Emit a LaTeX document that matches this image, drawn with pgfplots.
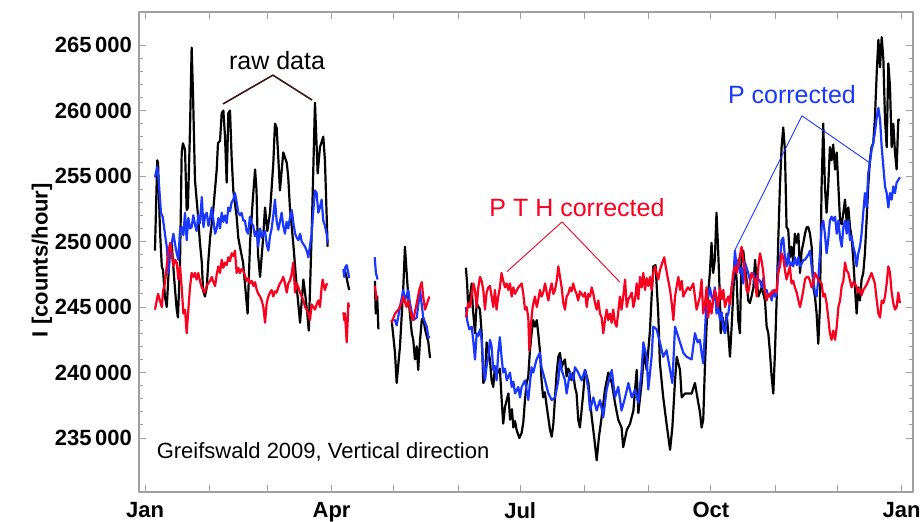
\documentclass[border=0pt]{standalone}
\usepackage{pgfplots}
\pgfplotsset{compat=1.18}
\usepackage{pgfplotstable}
\usepackage{fontspec}
\setmainfont{Liberation Sans}
\definecolor{myblue}{RGB}{25,55,255}
\definecolor{myred}{RGB}{250,0,30}
\definecolor{annline}{RGB}{60,20,20}
\definecolor{framegray}{RGB}{160,160,160}

\pgfplotstableread{
d v
4.8 249.3
5.9 256.2
6.3 256.0
7.2 250.9
8.1 248.1
8.7 247.8
9.6 245.8
10.5 245.0
11.1 246.8
12.1 249.6
12.9 249.9
13.5 248.4
14.5 246.3
15.3 244.8
15.9 244.2
16.9 248.4
17.7 256.8
18.3 257.5
19.3 257.0
20.1 252.4
20.7 252.6
21.7 258.5
22.5 264.8
23.2 261.0
24.1 254.7
25.6 251.9
26.5 249.9
27.4 248.4
28.0 246.3
28.9 245.8
29.8 246.5
30.5 248.4
31.4 250.3
32.8 252.2
34.6 255.5
35.2 257.5
36.2 257.7
37.0 259.8
37.8 260.0
38.6 258.0
39.4 254.5
40.2 259.8
41.0 260.0
41.8 256.4
42.6 253.9
44.2 251.9
45.0 250.3
45.8 249.6
47.3 248.4
48.2 246.8
49.5 244.5
50.7 250.0
52.0 253.2
53.1 255.5
53.8 253.9
54.5 249.1
55.5 247.3
56.9 250.1
57.9 252.6
59.0 250.8
60.3 252.2
61.9 256.0
62.7 259.0
63.5 258.7
64.3 256.4
65.1 253.9
66.7 256.8
68.4 256.0
69.1 254.9
69.9 252.6
71.5 249.9
73.2 246.5
74.8 243.8
76.4 247.1
77.2 246.1
78.3 244.5
79.0 243.2
80.4 250.6
82.0 260.6
83.3 255.2
84.4 257.2
86.0 258.0
86.8 256.2
88.1 249.6
nan nan
96.3 247.9
97.2 247.3
97.8 246.8
98.5 246.3
nan nan
110.9 247.0
111.3 244.5
112.0 245.8
112.6 243.3
nan nan
119.0 244.0
120.6 241.5
121.4 239.2
123.0 242.0
124.6 246.5
125.4 249.6
127.0 245.8
128.7 243.0
129.4 242.5
130.2 241.0
131.1 242.0
131.8 240.2
132.7 242.5
133.5 244.0
134.2 244.2
135.1 243.3
136.7 242.3
137.5 241.1
nan nan
154.8 248.0
155.4 246.8
155.9 245.0
156.8 245.8
157.6 246.8
158.1 245.0
159.2 243.0
160.0 245.3
161.6 244.8
162.4 243.0
163.2 239.2
164.0 239.5
164.8 242.3
166.4 241.0
167.2 239.4
168.0 238.9
168.8 240.4
170.4 240.0
171.2 240.3
172.0 238.1
172.8 236.1
173.7 237.4
175.3 238.4
176.1 236.4
177.0 237.2
177.7 235.8
178.5 236.3
179.3 235.6
180.6 235.0
181.7 235.4
182.5 236.2
183.3 237.9
184.1 239.2
184.9 239.7
185.7 241.7
186.5 243.0
187.3 244.0
188.1 243.5
189.0 244.0
189.7 243.0
190.5 241.7
191.3 239.4
192.1 238.1
192.9 238.5
193.8 237.4
195.4 235.6
196.2 235.1
197.0 236.1
197.8 238.1
198.6 240.0
199.4 241.2
200.2 241.5
201.0 240.4
201.8 240.8
202.6 241.0
203.4 239.7
204.2 240.3
205.0 240.0
205.8 239.4
206.6 240.0
207.4 238.9
208.2 238.4
209.0 236.4
209.8 235.8
211.4 238.4
212.3 240.2
213.9 239.2
215.5 236.6
216.8 234.9
217.9 233.3
219.0 235.1
220.3 236.6
221.9 238.7
223.5 240.0
225.2 239.2
226.7 237.7
228.3 236.4
229.9 235.8
230.7 234.3
232.4 235.6
234.0 236.1
235.6 237.1
237.2 240.2
238.0 236.9
239.6 239.2
240.9 241.7
242.0 240.2
243.6 243.2
244.4 245.8
245.2 248.1
246.3 248.2
247.6 244.5
248.4 240.7
250.0 238.1
251.6 236.1
253.3 234.1
254.4 235.8
255.7 239.4
256.5 241.2
258.1 240.2
258.9 238.1
260.5 238.4
262.1 238.4
263.7 238.4
265.3 239.2
266.9 237.7
267.7 237.0
268.5 235.8
269.3 236.4
270.1 240.4
270.9 243.5
271.7 246.1
272.5 247.6
273.3 249.9
274.1 247.6
274.9 248.6
275.7 252.2
276.5 249.3
277.4 245.5
277.7 243.0
278.7 244.2
279.8 243.0
280.6 244.5
281.4 243.0
282.2 241.2
283.0 243.5
283.8 246.1
284.6 248.6
285.4 247.1
286.2 244.0
287.0 243.0
287.8 249.1
288.6 249.3
289.4 248.1
290.2 247.1
291.0 245.5
291.8 245.3
292.6 245.8
293.5 246.5
294.3 248.6
295.1 247.1
295.9 245.8
297.5 246.5
299.1 245.5
299.9 243.5
300.7 243.0
301.5 241.5
302.3 239.7
303.1 238.4
303.9 241.5
304.7 245.5
305.5 250.1
306.3 254.2
307.1 257.2
307.9 258.7
308.7 257.0
309.5 251.1
310.3 250.9
311.1 248.8
311.9 249.6
312.7 248.4
313.5 250.6
314.4 249.9
315.2 250.6
316.0 247.6
316.8 249.3
317.6 249.9
318.4 250.6
319.2 251.1
320.0 251.1
320.8 250.6
321.6 249.6
322.4 246.5
323.2 245.8
324.0 244.5
324.8 242.2
325.6 245.0
326.4 254.2
327.2 259.0
328.0 254.2
328.8 252.2
329.6 254.2
330.4 257.2
331.2 256.2
332.0 257.4
332.9 255.5
333.7 256.8
334.5 254.2
335.3 251.6
336.1 251.3
336.9 252.2
337.7 253.2
338.5 251.5
339.3 252.6
340.1 251.1
340.9 250.3
341.7 248.6
342.5 246.5
343.3 244.5
344.1 246.5
344.9 245.5
345.7 247.1
346.5 247.6
347.3 249.1
348.1 251.6
348.9 254.2
349.7 256.2
350.5 257.2
351.3 257.5
352.1 259.3
353.0 262.9
353.8 265.4
354.6 263.3
355.4 265.6
356.2 263.9
357.0 259.3
357.8 257.2
358.6 263.6
359.4 261.8
360.2 257.2
361.0 259.0
361.8 256.8
362.6 255.5
363.4 259.3
364.2 259.3
}\rawdata

\pgfplotstableread{
d v
4.8 254.9
5.9 255.7
6.8 254.2
7.7 252.2
8.5 251.9
9.6 250.6
10.5 249.6
11.3 247.6
11.8 248.8
12.9 249.9
13.7 250.6
14.5 249.8
15.3 249.1
16.1 248.6
16.9 250.9
17.7 251.1
18.5 250.5
19.3 252.2
20.1 250.1
20.9 251.8
21.7 251.0
22.5 251.1
23.3 252.0
24.1 251.3
24.9 250.8
25.7 252.0
26.5 251.4
27.4 253.4
28.2 251.1
29.0 252.0
29.8 252.2
30.6 251.2
31.4 251.8
32.2 252.6
33.0 251.6
33.8 250.6
34.6 251.0
35.4 251.8
36.2 251.0
37.0 252.2
37.8 251.5
38.6 252.0
39.4 251.4
40.2 252.6
41.0 252.3
41.8 253.0
42.6 253.2
43.4 253.7
44.2 253.0
45.0 252.2
45.8 252.0
46.6 252.2
47.4 251.6
48.2 251.6
49.0 250.8
49.8 250.6
50.6 251.9
51.4 251.4
52.2 251.2
53.0 250.4
53.8 250.8
54.6 249.6
55.5 251.0
56.3 250.3
57.1 250.6
57.9 250.8
58.7 249.8
59.5 249.3
60.3 250.4
61.1 251.0
61.9 252.0
62.7 253.2
63.5 251.6
64.3 250.9
65.1 251.5
65.9 252.2
66.7 251.2
67.5 250.6
68.3 251.5
69.1 251.0
69.9 251.8
70.8 252.4
71.6 251.4
72.4 250.6
73.2 250.3
74.0 250.1
74.8 250.6
75.6 250.0
76.4 249.8
77.2 249.6
78.0 249.3
78.8 248.8
79.6 249.7
80.4 250.6
81.2 252.4
82.0 253.9
82.8 253.7
83.6 252.2
84.4 252.6
85.2 253.2
86.0 251.6
86.8 251.2
87.6 250.6
88.1 249.9
nan nan
95.7 247.9
96.1 247.3
96.5 248.0
97.3 248.2
98.1 247.6
98.4 247.2
nan nan
110.8 248.8
111.4 247.6
112.2 247.1
nan nan
119.0 244.0
120.6 244.0
121.4 243.6
123.0 245.0
124.6 246.3
125.4 245.5
127.0 246.3
127.8 245.3
129.4 244.0
131.1 244.2
132.7 246.3
134.2 244.2
135.9 243.5
136.7 242.7
137.5 242.7
nan nan
154.8 245.0
155.4 244.0
156.4 243.3
157.6 243.5
158.3 242.5
159.2 241.0
160.0 243.0
160.8 242.8
161.6 243.3
162.4 242.5
163.2 240.4
164.0 239.4
164.8 240.5
165.6 241.2
166.4 242.5
167.2 242.0
168.0 240.2
168.8 240.5
169.6 239.4
170.4 241.5
171.2 242.7
172.0 241.2
172.8 240.0
173.7 240.3
174.5 239.4
176.1 240.0
176.9 238.9
177.7 239.3
178.5 238.4
180.1 238.9
180.9 238.1
181.7 238.9
183.3 239.4
184.9 237.9
185.7 239.2
186.5 240.4
187.3 240.0
188.9 241.0
190.5 241.5
191.3 240.4
193.0 239.4
194.6 238.4
196.2 237.9
197.8 238.1
199.4 239.4
200.2 241.0
201.0 240.2
202.6 239.4
203.4 238.4
205.0 240.0
206.6 239.4
207.4 240.4
209.0 240.0
210.6 239.4
212.3 240.2
213.9 238.7
214.7 237.1
216.3 238.1
217.9 237.1
219.5 237.9
221.1 236.6
222.7 238.7
223.5 239.2
225.2 240.2
226.7 238.1
228.3 238.9
229.9 237.1
231.6 238.1
233.2 239.2
234.8 238.1
236.4 238.7
238.0 237.7
239.6 240.2
240.4 242.3
242.0 241.2
242.8 238.7
244.4 241.2
245.2 243.5
246.8 243.3
248.4 242.3
250.0 241.2
251.6 241.7
253.3 240.2
254.4 239.2
255.7 243.5
257.3 242.7
258.1 242.3
259.7 241.5
261.3 241.2
263.7 241.0
265.3 243.0
266.6 242.3
267.7 242.5
268.5 241.5
269.3 240.7
270.1 243.0
270.9 245.5
271.7 245.8
272.5 246.5
273.3 245.8
274.1 245.5
274.9 246.5
275.7 244.5
276.5 245.0
277.4 244.0
278.2 244.6
279.0 243.3
279.8 243.0
280.6 244.2
281.4 244.5
282.2 245.5
283.0 246.5
283.8 247.1
284.6 249.3
285.4 248.1
286.2 248.6
287.0 247.6
287.8 248.0
288.6 246.8
289.4 248.4
290.2 248.0
291.0 247.6
291.8 247.1
292.6 247.4
293.5 247.6
294.3 246.5
295.1 247.4
295.9 247.1
296.7 247.0
297.5 246.5
298.3 247.2
299.1 246.1
299.9 246.3
300.7 245.8
301.5 246.0
302.3 245.5
303.1 246.3
303.9 245.8
304.7 245.9
305.5 248.1
306.3 248.6
307.1 250.1
307.9 250.3
308.7 248.8
309.5 248.1
310.3 249.1
311.1 248.1
311.9 248.4
312.7 248.1
313.5 248.8
314.4 248.2
315.2 248.8
316.0 248.1
316.8 248.3
317.6 248.6
318.4 248.6
319.2 248.8
320.0 249.0
320.8 249.3
321.6 248.1
322.4 247.1
323.2 246.1
324.0 245.8
324.8 247.1
325.6 249.1
326.4 251.1
327.2 251.6
328.0 250.6
328.8 249.1
329.6 250.1
330.4 251.6
331.2 251.9
332.0 251.6
332.9 251.9
333.7 250.6
334.5 251.6
335.3 250.3
336.1 249.6
336.9 251.1
337.7 251.6
338.5 250.6
339.3 251.6
340.1 250.1
340.9 250.4
341.7 249.6
342.5 249.1
343.3 248.1
344.1 249.1
344.9 249.6
345.7 250.6
346.5 252.2
347.3 253.7
348.1 252.6
348.9 255.2
349.7 256.0
350.5 257.0
351.3 257.5
352.1 258.3
353.0 259.5
353.8 260.2
354.6 259.3
355.4 257.2
356.2 255.7
357.0 254.2
357.8 253.7
358.6 252.6
359.4 253.7
360.2 253.2
361.0 254.2
361.8 253.7
362.6 254.5
363.4 254.7
364.2 254.9
}\pdata

\pgfplotstableread{
d v
4.8 244.8
6.3 246.0
7.2 245.5
8.1 245.0
8.8 246.3
9.6 246.8
10.4 248.0
11.2 249.1
12.1 249.9
12.9 249.1
13.7 248.1
14.5 248.6
15.3 248.4
16.1 247.1
16.9 248.1
17.7 246.5
18.5 244.5
19.3 244.8
20.1 243.0
20.9 244.8
21.7 246.5
22.5 247.6
23.3 247.3
24.1 247.6
24.9 247.1
25.7 247.6
26.5 247.0
27.4 246.5
28.2 246.3
28.9 246.1
29.7 246.6
30.5 246.8
31.4 247.0
32.2 247.3
33.0 246.9
33.8 246.6
34.6 247.5
35.4 248.1
36.2 247.6
37.0 248.6
37.8 248.0
38.6 248.4
39.4 248.2
40.2 248.8
41.0 248.5
41.8 249.1
42.6 248.9
43.4 249.3
44.2 247.6
45.0 248.0
45.8 247.6
46.6 247.9
47.4 247.8
48.2 247.4
49.0 247.0
49.8 247.2
50.7 246.8
51.5 247.0
52.3 246.6
53.1 246.9
53.9 246.3
54.7 246.0
55.5 245.8
56.3 245.5
57.1 245.0
57.9 243.8
58.7 245.3
59.5 245.8
60.3 246.1
61.1 246.3
61.9 245.8
62.7 246.2
63.5 246.1
64.3 246.5
65.1 246.8
65.9 247.0
66.7 247.3
67.5 246.8
68.4 246.1
69.1 246.8
69.9 247.0
70.7 247.5
71.5 248.4
72.4 246.1
73.2 246.8
74.0 246.5
74.8 246.1
75.6 245.8
76.4 245.5
77.2 245.0
78.0 244.8
78.8 244.5
79.6 244.0
80.4 245.2
81.2 245.0
82.0 244.8
82.8 245.2
83.6 245.5
84.4 245.0
85.2 246.5
85.7 247.1
86.3 246.6
86.8 246.3
87.5 246.7
88.1 246.8
nan nan
95.7 244.6
96.1 244.0
96.5 244.5
97.3 242.3
97.8 244.0
98.1 245.3
98.4 245.0
nan nan
110.9 246.6
111.4 246.0
111.7 245.5
nan nan
119.0 243.8
120.6 244.5
122.2 244.8
123.8 245.3
124.6 245.8
126.2 245.0
127.0 245.5
128.7 244.2
129.4 244.0
131.1 245.3
132.3 246.3
133.5 246.9
134.2 245.8
135.1 244.8
135.9 245.2
137.2 245.8
nan nan
154.8 244.2
156.0 245.3
156.8 245.0
158.4 246.8
159.2 246.3
160.0 245.0
160.8 246.5
161.6 247.3
162.4 247.0
163.2 246.3
164.0 244.8
164.8 246.1
165.6 246.5
166.4 246.6
168.0 245.0
168.8 246.3
169.6 244.8
170.4 245.8
171.2 246.5
172.0 247.6
172.8 247.0
173.7 246.5
174.5 246.8
175.3 246.3
176.1 246.8
176.9 245.8
177.7 246.5
178.5 246.0
180.1 246.5
181.7 246.8
182.5 246.0
183.3 244.8
184.1 245.0
184.9 244.2
185.4 241.7
186.1 243.5
187.0 245.0
188.1 245.8
189.0 245.0
189.7 245.5
190.5 246.3
191.3 245.8
192.1 246.1
193.0 246.8
193.8 246.1
194.6 245.5
195.4 246.3
196.2 246.8
197.0 246.0
197.8 246.3
198.6 247.0
199.4 248.1
200.2 247.3
201.0 246.5
201.8 245.3
202.6 244.8
203.4 245.8
204.2 246.0
205.0 246.5
205.8 246.2
206.6 246.8
207.4 246.3
208.2 246.0
209.0 245.5
209.8 246.2
211.4 245.8
212.3 246.1
213.1 245.0
213.9 246.0
214.7 245.8
215.5 246.5
216.3 246.0
217.1 245.3
217.9 244.8
218.7 245.5
219.5 244.5
220.3 244.2
221.1 243.0
221.9 244.0
222.7 244.8
223.5 244.0
224.3 244.5
225.1 243.8
225.9 244.8
226.7 243.8
227.5 243.5
228.3 244.6
229.1 245.8
229.9 244.8
230.7 245.8
231.6 247.1
232.4 245.0
233.2 245.6
234.0 245.8
234.8 246.1
235.6 245.0
236.4 245.6
237.2 246.8
238.0 245.6
238.8 247.3
239.6 246.5
240.4 247.6
241.2 246.3
242.0 247.2
242.8 246.6
243.6 247.3
244.4 246.3
245.2 247.6
246.0 248.1
246.8 247.6
247.6 247.1
248.4 247.8
249.6 248.4
250.5 248.8
251.3 248.0
252.1 247.3
253.3 246.3
254.1 245.3
254.9 244.0
255.7 245.8
256.5 246.6
257.3 247.3
258.1 246.3
258.9 247.0
259.7 245.8
260.5 246.1
261.9 246.5
262.9 246.3
264.5 246.8
265.3 245.8
266.1 244.8
266.9 245.3
267.7 245.8
268.5 247.1
269.3 244.5
270.1 245.2
270.9 246.5
271.7 244.2
272.5 245.5
273.3 244.5
274.1 245.5
274.9 246.3
275.7 245.8
276.5 245.0
277.4 246.5
278.2 245.6
279.0 246.3
279.8 245.0
280.6 245.5
281.4 245.8
282.2 245.2
283.0 246.5
283.8 247.6
284.6 248.1
285.4 247.6
286.6 248.6
287.8 249.6
288.6 248.6
289.4 247.6
290.2 246.3
291.0 246.1
291.8 246.8
292.6 247.6
293.5 247.3
294.3 247.1
295.1 245.8
295.9 248.1
296.7 249.1
297.5 248.5
298.3 247.6
299.1 246.1
299.9 245.5
300.7 246.0
301.5 245.8
302.3 246.2
303.1 246.1
303.9 246.3
304.7 246.1
305.5 247.6
306.3 248.1
307.1 249.1
307.9 248.8
308.7 247.8
309.5 247.1
310.3 247.6
311.1 248.1
311.9 246.8
312.7 247.0
313.5 246.5
314.4 246.1
315.2 245.5
316.0 245.0
316.8 245.6
317.6 246.3
318.4 247.1
319.2 247.3
320.0 247.3
320.8 247.0
321.6 246.5
322.4 246.8
323.2 247.6
324.8 247.1
326.4 246.8
327.2 245.8
328.0 246.0
328.8 245.3
329.6 244.2
330.4 243.0
331.2 242.5
332.0 243.2
332.9 242.5
333.7 243.5
334.5 245.0
335.3 245.5
336.1 246.6
336.9 247.0
337.7 248.4
338.5 247.8
339.3 247.6
340.1 247.0
340.9 246.5
341.7 246.9
342.5 246.8
343.3 246.5
344.1 246.1
344.9 246.4
345.7 245.9
346.5 246.3
347.3 246.5
348.1 246.7
348.9 247.0
349.7 247.3
350.5 247.6
351.3 247.2
352.1 246.8
353.0 245.5
353.8 244.5
354.6 244.2
355.4 245.5
356.2 245.3
357.0 245.8
357.8 246.8
358.6 248.1
359.4 247.6
360.2 246.1
361.0 245.3
361.8 244.8
362.6 245.0
363.4 246.1
364.2 245.3
}\pthdata

\begin{document}
\begin{tikzpicture}
\begin{axis}[
  name=ax,
  scale only axis,
  width=387pt, height=240pt,
  xmin=-2.9, xmax=370.5,
  ymin=230.88, ymax=267.52,
  xtick={0,31,59,90,120,151,181,212,243,273,304,334,365},
  xticklabels={Jan,,,Apr,,,Jul,,,Oct,,,Jan},
  ytick={235,240,245,250,255,260,265},
  yticklabels={235\,000,240\,000,245\,000,250\,000,255\,000,260\,000,265\,000},
  minor y tick num=4,
  tick align=inside,
  xtick pos=both, ytick pos=both,
  major tick length=3.5pt,
  minor tick length=2pt,
  axis line style={framegray, line width=0.6pt},
  every tick/.style={framegray, line width=0.5pt},
  every minor tick/.style={framegray, line width=0.5pt},
  ticklabel style={font=\fontsize{11}{13}\selectfont\bfseries, text=black},
  xticklabel style={yshift=-1.5pt},
  ylabel={I [counts/hour]},
  every axis y label/.style={at={(axis description cs:-0.1253,0.483)}, rotate=90, anchor=center, font=\fontsize{11}{13}\selectfont\bfseries},
  unbounded coords=jump,
  line join=round,
]
\addplot[black, line width=1.1pt, no markers] table[x=d, y=v] {\rawdata};
\addplot[myblue, line width=1.1pt, no markers] table[x=d, y=v] {\pdata};
\addplot[myred, line width=1.1pt, no markers] table[x=d, y=v] {\pthdata};

\draw[annline, line width=0.8pt] (axis cs:37.6,260.5) -- (axis cs:61.7,262.7) -- (axis cs:80.6,260.8);
\node[font=\fontsize{12.5}{14}\selectfont, text=black] at (axis cs:63.7,263.85) {raw data};

\draw[myred, line width=0.45pt] (axis cs:174.6,247.7) -- (axis cs:201.2,251.5) -- (axis cs:229.1,246.9);
\node[font=\fontsize{12.5}{14}\selectfont, text=myred] at (axis cs:208.4,252.56) {P T H corrected};

\draw[myblue, line width=0.45pt] (axis cs:284.6,249.35) -- (axis cs:316.9,259.6) -- (axis cs:349.7,256.0);
\node[font=\fontsize{12.5}{14}\selectfont, text=myblue] at (axis cs:312.1,261.2) {P corrected};

\node[font=\fontsize{11}{13}\selectfont, text=black] at (axis cs:85.9,233.93) {Greifswald 2009, Vertical direction};
\end{axis}
\pgfresetboundingbox
\path[use as bounding box] ([shift={(-69.5pt,-14.5pt)}]ax.south west) rectangle ([shift={(3.5pt,6pt)}]ax.north east);
\end{tikzpicture}
\end{document}
